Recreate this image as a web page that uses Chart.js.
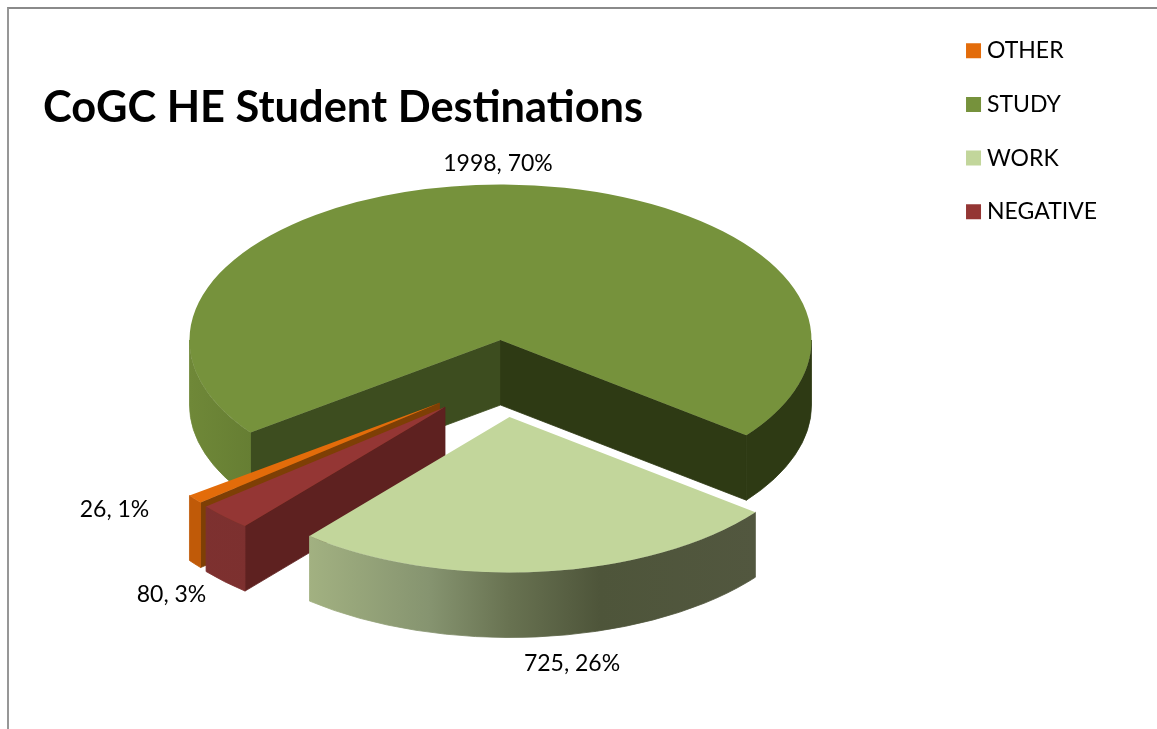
<!DOCTYPE html>
<html lang="en">

<head>
  <meta charset="UTF-8" />
  <script src="https://cdn.jsdelivr.net/npm/chart.js@4/dist/chart.umd.js"></script>
  <title>CoGC HE Student Destinations</title>
  <style>
    body { margin: 0; background: #fff; }
    #frame { position: absolute; left: 7px; top: 7px; right: 0; bottom: 0; border-top: 2px solid #8a8a8a; border-left: 2px solid #979797; }
    canvas { position: absolute; left: 0; top: 0; }
  </style>
</head>

<body>
<div id="frame"></div>
<canvas id="pie" width="1157" height="729"></canvas>
<script>
  const categories = ["OTHER", "STUDY", "WORK", "NEGATIVE"];
  const students = [26, 1998, 725, 80];
  const percents = [1, 70, 26, 3];

  const topColors = ["#E36C0A", "#76923C", "#C2D69B", "#943634"];
  // wall shading per slice: radial face at start angle, radial face at end angle
  const startFace = ["#7E3F05", "#3D4D1F", "#4E553A", "#5E2120"];
  const endFace = ["#7E3F05", "#2E3A14", "#4E553A", "#5E2120"];
  const rimStops = [
    [[0, "#C05A08"], [1, "#C05A08"]],
    [[0, "#6F8838"], [0.1, "#667E33"], [0.89, "#2E3A14"], [1, "#2E3A14"]],
    [[0.177, "#A2B181"], [0.37, "#869470"], [0.5, "#687251"], [0.645, "#4E553A"], [0.894, "#52573F"]],
    [[0, "#7E3130"], [1, "#752C2B"]]
  ];

  // where the flattened pie sits on the page
  const centerX = 500.5, centerY = 340, squash = 0.5, depth = 65;
  const explodeX = [-61, 0, 9, -55.5];
  const explodeY = [63, 0, 77, 67];
  const paintOrder = [1, 0, 3, 2];
  const labelX = [114.5, 498, 572, 171.5];
  const labelY = [510, 164, 664, 595];

  const labelFont = "23px Lato";

  const pie3d = {
    id: "pie3d",
    beforeDatasetDraw: () => false,
    afterDatasetsDraw(chart) {
      const ctx = chart.ctx;
      const arcs = chart.getDatasetMeta(0).data;
      paintOrder.forEach((i) => {
        const arc = arcs[i];
        const cx = centerX + explodeX[i];
        const cy = centerY + explodeY[i];
        const r = arc.outerRadius;
        const ry = r * squash;
        const a0 = arc.startAngle, a1 = arc.endAngle;
        ctx.lineWidth = 0.8;

        const radialFace = (angle, color) => {
          ctx.fillStyle = color;
          ctx.strokeStyle = color;
          ctx.beginPath();
          ctx.moveTo(cx, cy);
          ctx.lineTo(cx + r * Math.cos(angle), cy + ry * Math.sin(angle));
          ctx.lineTo(cx + r * Math.cos(angle), cy + ry * Math.sin(angle) + depth);
          ctx.lineTo(cx, cy + depth);
          ctx.closePath();
          ctx.fill();
          ctx.stroke();
        };
        if (Math.cos(a0) < 0) radialFace(a0, startFace[i]);
        if (Math.cos(a1) > 0) radialFace(a1, endFace[i]);

        // outer rim, only the front half of the ellipse can show
        const grad = ctx.createLinearGradient(cx - r, 0, cx + r, 0);
        rimStops[i].forEach(([at, color]) => grad.addColorStop(at, color));
        ctx.fillStyle = grad;
        ctx.strokeStyle = grad;
        for (let k = -1; k < 3; k++) {
          const from = Math.max(a0, k * 2 * Math.PI);
          const to = Math.min(a1, k * 2 * Math.PI + Math.PI);
          if (to <= from) continue;
          ctx.beginPath();
          ctx.ellipse(cx, cy, r, ry, 0, from, to);
          ctx.ellipse(cx, cy + depth, r, ry, 0, to, from, true);
          ctx.closePath();
          ctx.fill();
          ctx.stroke();
        }

        ctx.save();
        ctx.translate(cx, cy);
        ctx.scale(1, squash);
        ctx.translate(-arc.x, -arc.y);
        arc.draw(ctx);
        ctx.restore();
      });

      ctx.save();
      ctx.font = labelFont;
      ctx.fillStyle = "#000";
      ctx.textAlign = "center";
      ctx.textBaseline = "middle";
      categories.forEach((c, i) => {
        ctx.fillText(`${students[i]}, ${percents[i]}%`, labelX[i], labelY[i]);
      });
      ctx.restore();
    }
  };

  new Chart(document.getElementById("pie"), {
    type: "pie",
    data: {
      labels: categories,
      datasets: [{
        data: students,
        backgroundColor: topColors,
        borderWidth: 0
      }]
    },
    plugins: [pie3d],
    options: {
      responsive: false,
      animation: false,
      events: [],
      rotation: 230.2,
      radius: 311,
      layout: { padding: { left: 43, top: 8.5, right: 50 } },
      plugins: {
        tooltip: { enabled: false },
        title: {
          display: true,
          text: "CoGC HE Student Destinations",
          align: "start",
          fullSize: false,
          color: "#000",
          font: { family: "Lato", size: 43.4, weight: "bold" },
          padding: { top: 73.5, bottom: 10 }
        },
        legend: {
          position: "right",
          align: "start",
          labels: {
            color: "#000",
            font: { family: "Lato", size: 23 },
            usePointStyle: true,
            pointStyle: "rect",
            boxWidth: 4,
            boxHeight: 15,
            padding: 30.7
          }
        }
      }
    }
  });
</script>
</body>
</html>
